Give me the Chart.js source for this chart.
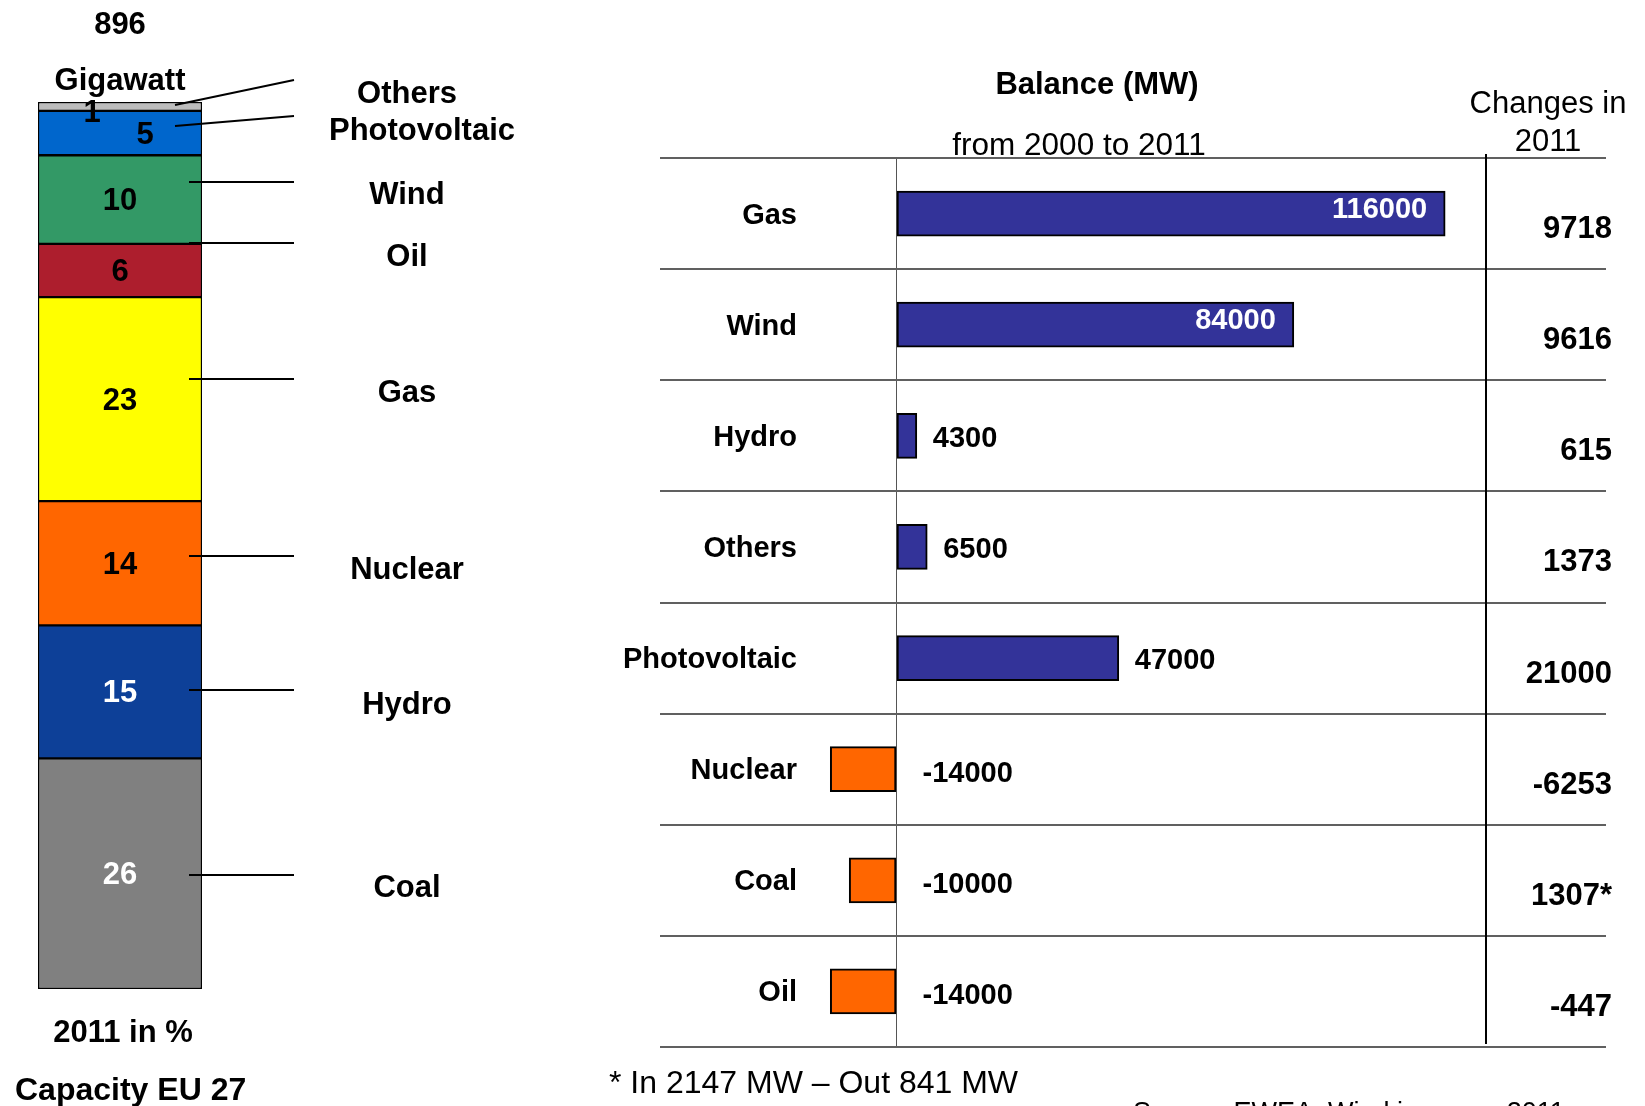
<!DOCTYPE html>
<html>
<head>
<meta charset="utf-8">
<title>EU 27 capacity and balance</title>
<script src="https://cdn.jsdelivr.net/npm/chart.js@4.4.0/dist/chart.umd.min.js"></script>
<style>
  html, body { margin: 0; padding: 0; background: #fff; }
  #wrap { position: relative; width: 1645px; height: 1106px; overflow: hidden; }
  canvas { position: absolute; left: 0; top: 0; }
</style>
</head>
<body>
<div id="wrap">
  <canvas id="mix" width="1645" height="1106"></canvas>
  <canvas id="balance" width="1645" height="1106"></canvas>
</div>
<script>
// Capacity EU 27 in 2011 (%), stacked from the bottom up
const mixSources = ['Coal', 'Hydro', 'Nuclear', 'Gas', 'Oil', 'Wind', 'Photovoltaic', 'Others'];
const mixShares = [26, 15, 14, 23, 6, 10, 5, 1];
const mixColors = ['#808080', '#0d4098', '#ff6600', '#ffff00', '#ad1e2d', '#339966', '#0066cc', '#bdbdbd'];
const mixTextColors = ['#fff', '#fff', '#000', '#000', '#000', '#000', '#000', '#000'];
const totalGigawatt = '896';

// Balance from 2000 to 2011 (MW) and changes in 2011
const balanceSources = ['Gas', 'Wind', 'Hydro', 'Others', 'Photovoltaic', 'Nuclear', 'Coal', 'Oil'];
const balanceMW = [116000, 84000, 4300, 6500, 47000, -14000, -10000, -14000];
const changes2011 = ['9718', '9616', '615', '1373', '21000', '-6253', '1307*', '-447'];

const FONT = '"Liberation Sans", Arial, Helvetica, sans-serif';

// where the names beside the stacked column sit, and their leader lines
const callouts = {
  Others:       { x: 407, y: 92,  line: [175, 105, 294, 80] },
  Photovoltaic: { x: 422, y: 129, line: [175, 126, 294, 116] },
  Wind:         { x: 407, y: 193, line: [189, 182, 294, 182] },
  Oil:          { x: 407, y: 255, line: [189, 243, 294, 243] },
  Gas:          { x: 407, y: 391, line: [189, 379, 294, 379] },
  Nuclear:      { x: 407, y: 568, line: [189, 556, 294, 556] },
  Hydro:        { x: 407, y: 703, line: [189, 690, 294, 690] },
  Coal:         { x: 407, y: 886, line: [189, 875, 294, 875] }
};
// small nudges for the numbers in the thin top segments
const numberNudge = { Others: -28, Photovoltaic: 25 };

// centred-ish text; 'middle' sits a touch high for these fonts, so drop 2px
function text(ctx, str, x, y, font, color, align) {
  ctx.font = font;
  ctx.fillStyle = color || '#000';
  ctx.textAlign = align || 'center';
  ctx.textBaseline = 'middle';
  ctx.fillText(str, x, y + 2);
}

const mixLabels = {
  id: 'mixLabels',
  afterDraw(chart) {
    const ctx = chart.ctx;
    ctx.save();
    chart.data.datasets.forEach((ds, i) => {
      const bar = chart.getDatasetMeta(i).data[0];
      const name = mixSources[i];
      const midY = (bar.y + bar.base) / 2;
      const dx = numberNudge[name] || 0;
      const dy = name === 'Others' ? 5 : 0;
      text(ctx, String(mixShares[i]), bar.x + dx, midY + dy, 'bold 31px ' + FONT, mixTextColors[i]);

      const c = callouts[name];
      ctx.strokeStyle = '#000';
      ctx.lineWidth = 2;
      ctx.beginPath();
      ctx.moveTo(c.line[0], c.line[1]);
      ctx.lineTo(c.line[2], c.line[3]);
      ctx.stroke();
      text(ctx, name, c.x, c.y, 'bold 31px ' + FONT);
    });

    const cx = chart.getDatasetMeta(0).data[0].x;
    text(ctx, totalGigawatt, cx, 23, 'bold 31px ' + FONT);
    text(ctx, 'Gigawatt', cx, 79, 'bold 31px ' + FONT);
    text(ctx, '2011 in %', cx + 3, 1031, 'bold 31px ' + FONT);
    text(ctx, 'Capacity EU 27', 15, 1089, 'bold 32px ' + FONT, '#000', 'left');
    ctx.restore();
  }
};

new Chart(document.getElementById('mix'), {
  type: 'bar',
  data: {
    labels: ['2011'],
    datasets: mixSources.map((name, i) => ({
      label: name,
      data: [mixShares[i]],
      backgroundColor: mixColors[i],
      borderColor: '#000',
      borderWidth: 1.5,
      borderSkipped: false
    }))
  },
  options: {
    responsive: false,
    animation: false,
    layout: { padding: { left: 38, right: 1443, top: 102, bottom: 117 } },
    datasets: { bar: { categoryPercentage: 1, barPercentage: 1 } },
    plugins: { legend: { display: false }, tooltip: { enabled: false } },
    scales: {
      x: { stacked: true, display: false },
      y: { stacked: true, display: false, min: 0, max: 100 }
    }
  },
  plugins: [mixLabels]
});

const balanceLabels = {
  id: 'balanceLabels',
  afterDraw(chart) {
    const ctx = chart.ctx;
    const area = chart.chartArea;
    const x0 = chart.scales.x.getPixelForValue(0);
    const meta = chart.getDatasetMeta(0);
    ctx.save();

    meta.data.forEach((bar, i) => {
      const v = balanceMW[i];
      const f = 'bold 29px ' + FONT;
      if (v > 60000) {
        text(ctx, String(v), bar.x - 18, bar.y - 6, f, '#fff', 'right');
      } else if (v > 0) {
        text(ctx, String(v), bar.x + 16, bar.y + 1, f, '#000', 'left');
      } else {
        text(ctx, String(v), x0 + 26, bar.y + 3, f, '#000', 'left');
      }
      text(ctx, balanceSources[i], 797, bar.y, 'bold 29px ' + FONT, '#000', 'right');
      text(ctx, changes2011[i], 1612, bar.y + 14, 'bold 31px ' + FONT, '#000', 'right');
    });

    // separator for the 2011 column
    ctx.strokeStyle = '#000';
    ctx.lineWidth = 2;
    ctx.beginPath();
    ctx.moveTo(1486, area.top - 4);
    ctx.lineTo(1486, area.bottom - 3);
    ctx.stroke();

    text(ctx, 'Balance (MW)', 1097, 83, 'bold 31px ' + FONT);
    text(ctx, 'from 2000 to 2011', 1079, 144, '31.5px ' + FONT);
    text(ctx, 'Changes in', 1548, 102, '31px ' + FONT);
    text(ctx, '2011', 1548, 140, '31px ' + FONT);
    text(ctx, '* In 2147 MW \u2013 Out 841 MW', 609, 1082, '32px ' + FONT, '#000', 'left');
    text(ctx, 'Source: EWEA, Wind in power 2011', 1133, 1112, '27px ' + FONT, '#000', 'left');
    ctx.restore();
  }
};

new Chart(document.getElementById('balance'), {
  type: 'bar',
  data: {
    labels: balanceSources,
    datasets: [{
      data: balanceMW,
      backgroundColor: balanceMW.map(v => (v >= 0 ? '#333399' : '#ff6600')),
      borderColor: '#000',
      borderWidth: 2,
      borderSkipped: false,
      barThickness: 45
    }]
  },
  options: {
    indexAxis: 'y',
    responsive: false,
    animation: false,
    layout: { padding: { left: 660, right: 39, top: 158, bottom: 59 } },
    plugins: { legend: { display: false }, tooltip: { enabled: false } },
    scales: {
      x: {
        min: -50000,
        max: 150000,
        ticks: { display: false, stepSize: 50000 },
        border: { display: false },
        grid: {
          drawTicks: false,
          lineWidth: 1,
          color: ctx => (ctx.tick && ctx.tick.value === 0 ? '#555' : 'rgba(0,0,0,0)')
        }
      },
      y: {
        ticks: { display: false },
        border: { display: false },
        grid: { drawTicks: false, color: '#606060', lineWidth: 2 }
      }
    }
  },
  plugins: [balanceLabels]
});
</script>
</body>
</html>
